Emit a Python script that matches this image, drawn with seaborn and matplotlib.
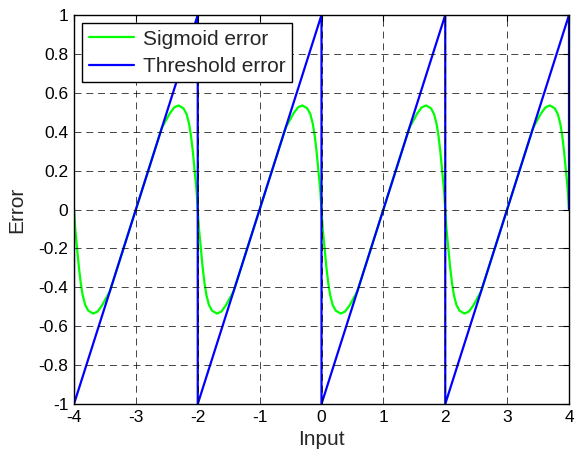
import matplotlib
matplotlib.use("Agg")
import matplotlib.pyplot as plt
import seaborn as sns
import pandas as pd

# ---- data ----
threshold_x = [-4, -4, -2, -2, 0, 0, 2, 2, 4, 4]
threshold_y = [0, -1, 1, -1, 1, -1, 1, -1, 1, 0]

sigmoid_x = [
    -4.00, -3.98, -3.95, -3.92, -3.89, -3.86, -3.82, -3.77, -3.69, -3.62, -3.55, -3.48, -3.42, -3.30, -3.15,
    -3.00, -2.85, -2.70, -2.58, -2.52, -2.45, -2.38, -2.31, -2.23, -2.18, -2.14, -2.11, -2.08, -2.05, -2.02,
    -2.00, -1.98, -1.95, -1.92, -1.89, -1.86, -1.82, -1.77, -1.69, -1.62, -1.55, -1.48, -1.42, -1.30, -1.15,
    -1.00, -0.85, -0.70, -0.58, -0.52, -0.45, -0.38, -0.31, -0.23, -0.18, -0.14, -0.11, -0.08, -0.05, -0.02,
    0.00, 0.02, 0.05, 0.08, 0.11, 0.14, 0.18, 0.23, 0.31, 0.38, 0.45, 0.52, 0.58, 0.70, 0.85,
    1.00, 1.15, 1.30, 1.42, 1.48, 1.55, 1.62, 1.69, 1.77, 1.82, 1.86, 1.89, 1.92, 1.95, 1.98,
    2.00, 2.02, 2.05, 2.08, 2.11, 2.14, 2.18, 2.23, 2.31, 2.38, 2.45, 2.52, 2.58, 2.70, 2.85,
    3.00, 3.15, 3.30, 3.42, 3.48, 3.55, 3.62, 3.69, 3.77, 3.82, 3.86, 3.89, 3.92, 3.95, 3.98,
    4.00,
]
sigmoid_y = [
    0.00, -0.10, -0.20, -0.30, -0.38, -0.44, -0.49, -0.52, -0.535, -0.525, -0.495, -0.455, -0.42, -0.30, -0.15,
    0.00, 0.15, 0.30, 0.42, 0.455, 0.495, 0.525, 0.535, 0.52, 0.49, 0.44, 0.38, 0.30, 0.20, 0.10,
    0.00, -0.10, -0.20, -0.30, -0.38, -0.44, -0.49, -0.52, -0.535, -0.525, -0.495, -0.455, -0.42, -0.30, -0.15,
    0.00, 0.15, 0.30, 0.42, 0.455, 0.495, 0.525, 0.535, 0.52, 0.49, 0.44, 0.38, 0.30, 0.20, 0.10,
    0.00, -0.10, -0.20, -0.30, -0.38, -0.44, -0.49, -0.52, -0.535, -0.525, -0.495, -0.455, -0.42, -0.30, -0.15,
    0.00, 0.15, 0.30, 0.42, 0.455, 0.495, 0.525, 0.535, 0.52, 0.49, 0.44, 0.38, 0.30, 0.20, 0.10,
    0.00, -0.10, -0.20, -0.30, -0.38, -0.44, -0.49, -0.52, -0.535, -0.525, -0.495, -0.455, -0.42, -0.30, -0.15,
    0.00, 0.15, 0.30, 0.42, 0.455, 0.495, 0.525, 0.535, 0.52, 0.49, 0.44, 0.38, 0.30, 0.20, 0.10,
    0.00,
]

x_ticks = [-4, -3, -2, -1, 0, 1, 2, 3, 4]
x_tick_labels = ["-4", "-3", "-2", "-1", "0", "1", "2", "3", "4"]
y_ticks = [-1, -0.8, -0.6, -0.4, -0.2, 0, 0.2, 0.4, 0.6, 0.8, 1]
y_tick_labels = ["-1", "-0.8", "-0.6", "-0.4", "-0.2", "0", "0.2", "0.4", "0.6", "0.8", "1"]

sns.set_style("white")
plt.rcParams["font.family"] = ["Liberation Sans", "DejaVu Sans"]
plt.rcParams["lines.scale_dashes"] = False

fig = plt.figure(figsize=(5.78, 4.54), dpi=100)
ax = fig.add_axes([74 / 578, 1 - 404 / 454, (569 - 74) / 578, (404 - 15) / 454])

df_sig = pd.DataFrame({"x": sigmoid_x, "y": sigmoid_y})
df_thr = pd.DataFrame({"x": threshold_x, "y": threshold_y})

sns.lineplot(data=df_sig, x="x", y="y", sort=False, estimator=None, color=(0, 1, 0),
             linewidth=1.6, label="Sigmoid error", ax=ax)
sns.lineplot(data=df_thr, x="x", y="y", sort=False, estimator=None, color=(0, 0, 1),
             linewidth=1.6, label="Threshold error", ax=ax)

ax.set_xlim(-4, 4)
ax.set_ylim(-1, 1)
ax.set_xticks(x_ticks)
ax.set_xticklabels(x_tick_labels)
ax.set_yticks(y_ticks)
ax.set_yticklabels(y_tick_labels)
ax.tick_params(axis="both", direction="in", length=4, width=0.8, labelsize=12.5,
               top=True, right=True, colors="black", pad=4)
ax.grid(True, color="black", linestyle=(0, (5, 3.5)), linewidth=0.6, alpha=0.85)
for s in ax.spines.values():
    s.set_color("black")
    s.set_linewidth(1.0)
ax.set_axisbelow(False)

ax.set_xlabel("Input", fontsize=15, labelpad=4)
ax.set_ylabel("Error", fontsize=15, labelpad=9)

leg = ax.legend(loc="upper left", fontsize=15, frameon=True, fancybox=False,
                handlelength=2.2, handletextpad=0.4, borderaxespad=0.4,
                borderpad=0.3, labelspacing=0.4, edgecolor="black")
leg.get_frame().set_linewidth(1.0)
leg.get_frame().set_alpha(1)

fig.savefig("out.png", dpi=100)
